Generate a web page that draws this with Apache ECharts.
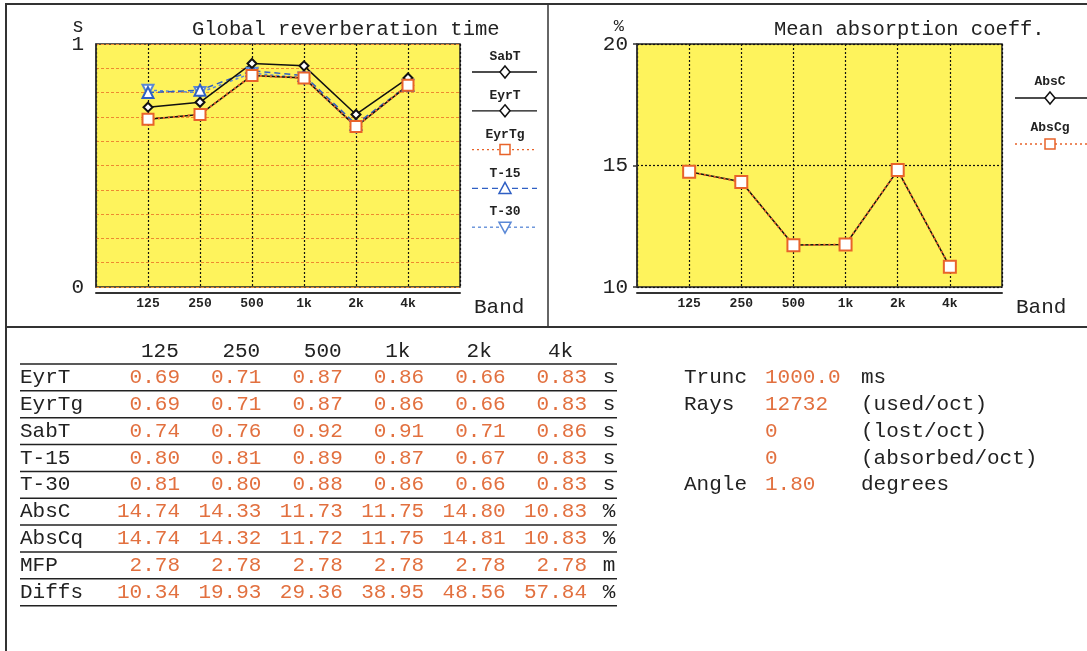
<!DOCTYPE html>
<html><head><meta charset="utf-8">
<script src="https://cdn.jsdelivr.net/npm/echarts@6/dist/echarts.min.js"></script>
<style>html,body{margin:0;padding:0;background:#fff}#c{width:1087px;height:651px}</style>
</head><body><div id="c"></div>
<script>
// ---------- data ----------
const bands = ['125', '250', '500', '1k', '2k', '4k'];
const sabT  = [0.74, 0.76, 0.92, 0.91, 0.71, 0.86];
const eyrT  = [0.69, 0.71, 0.87, 0.86, 0.66, 0.83];
const eyrTg = [0.69, 0.71, 0.87, 0.86, 0.66, 0.83];
const t15   = [0.80, 0.81, 0.89, 0.87, 0.67, 0.83];
const t30   = [0.81, 0.80, 0.88, 0.86, 0.66, 0.83];
const absC  = [14.74, 14.33, 11.73, 11.75, 14.80, 10.83];
const absCg = [14.74, 14.32, 11.72, 11.75, 14.81, 10.83];
const mfp   = [2.78, 2.78, 2.78, 2.78, 2.78, 2.78];
const diffs = [10.34, 19.93, 29.36, 38.95, 48.56, 57.84];
const rtTickLabels  = [0, 1];
const absTickLabels = [10, 15, 20];
const tableNames = ['EyrT', 'EyrTg', 'SabT', 'T-15', 'T-30', 'AbsC', 'AbsCq', 'MFP', 'Diffs'];
const tableUnits = ['s', 's', 's', 's', 's', '%', '%', 'm', '%'];
const infoLabels = ['Trunc', 'Rays', '', '', 'Angle'];
const infoValues = ['1000.0', '12732', '0', '0', '1.80'];
const infoUnits  = ['ms', '(used/oct)', '(lost/oct)', '(absorbed/oct)', 'degrees'];

// ---------- styles ----------
const FONT = '"Liberation Mono","DejaVu Sans Mono",monospace';
const YEL = '#FEF35C';
const ORG = '#E8632A';
const VALC = '#E2703F';
const INK = '#222';
const BLUE1 = '#2F5FC4';
const BLUE2 = '#5A88D6';

const rtCfg = [
  {name: 'SabT',  data: sabT,  color: '#111', dash: 'solid', w: 1.5, sym: 'emptyDiamond',  size: 9,  rot: 0},
  {name: 'EyrT',  data: eyrT,  color: '#111', dash: 'solid', w: 1.5, sym: 'emptyDiamond',  size: 10, rot: 0},
  {name: 'EyrTg', data: eyrTg, color: ORG,    dash: [2, 3],  w: 2,   sym: 'emptyRect',     size: 11, rot: 0},
  {name: 'T-15',  data: t15,   color: BLUE1,  dash: [6, 4],  w: 1.5, sym: 'emptyTriangle', size: 11, rot: 0},
  {name: 'T-30',  data: t30,   color: BLUE2,  dash: [3, 3],  w: 1.5, sym: 'emptyTriangle', size: 11, rot: 180}
];
const absCfg = [
  {name: 'AbsC',  data: absC,  color: '#111', dash: 'solid', w: 1.5, sym: 'emptyDiamond', size: 10, rot: 0},
  {name: 'AbsCg', data: absCg, color: ORG,    dash: [2, 3],  w: 2,   sym: 'emptyRect',    size: 12, rot: 0}
];
const rtDrawOrder = ['T-30', 'T-15', 'SabT', 'EyrT', 'EyrTg'];

function mkSeries(c, idx) {
  return {
    type: 'line', name: c.name, xAxisIndex: idx, yAxisIndex: idx,
    data: c.data.map((v, i) => [i + 1, v]),
    symbol: c.sym, symbolSize: c.size, symbolRotate: c.rot,
    itemStyle: {color: c.color, borderWidth: 1.5},
    lineStyle: {color: c.color, width: c.w, type: c.dash},
    emphasis: {disabled: true}, animation: false, z: 3
  };
}

function xAxisCfg(gi) {
  return {
    type: 'value', gridIndex: gi, min: 0, max: 7, interval: 1, offset: 6,
    axisLine: {show: true, onZero: false, lineStyle: {color: '#333', width: 2}},
    axisTick: {show: false},
    axisLabel: {formatter: v => bands[v - 1] || '', margin: 4, color: INK,
      fontFamily: FONT, fontSize: 13, fontWeight: 'bold'},
    splitLine: {show: true, lineStyle: {color: '#111', type: [2, 2], width: 1.2}},
    name: 'Band', nameLocation: 'end', nameGap: 14, nameMoveOverlap: false,
    nameTextStyle: {fontFamily: FONT, fontSize: 21, color: INK, verticalAlign: 'top', padding: [4, 0, 0, 0]}
  };
}

// ---------- legend graphics ----------
function marker(c, cx, cy) {
  const st = {fill: '#fff', stroke: c.color, lineWidth: 1.5};
  if (c.sym === 'emptyRect') return {type: 'rect', shape: {x: cx - 5, y: cy - 5, width: 10, height: 10}, style: st, z: 10};
  if (c.sym === 'emptyDiamond') return {type: 'polygon', shape: {points: [[cx, cy - 6], [cx + 5, cy], [cx, cy + 6], [cx - 5, cy]]}, style: st, z: 10};
  if (c.rot === 180) return {type: 'polygon', shape: {points: [[cx - 6, cy - 5], [cx + 6, cy - 5], [cx, cy + 6]]}, style: st, z: 10};
  return {type: 'polygon', shape: {points: [[cx, cy - 6], [cx + 6, cy + 5], [cx - 6, cy + 5]]}, style: st, z: 10};
}
function legendGraphics(cfgs, cx, x0, x1, y0, step, lab) {
  const out = [];
  cfgs.forEach((c, i) => {
    const y = y0 + step * i;
    out.push({type: 'text', x: cx, y: y - lab, style: {text: c.name, fill: INK, font: 'bold 13px ' + FONT, align: 'center', verticalAlign: 'middle'}, z: 10});
    out.push({type: 'line', shape: {x1: x0, y1: y, x2: x1, y2: y}, style: {stroke: c.color, lineWidth: 1.3, lineDash: c.dash === 'solid' ? null : c.dash}, z: 10});
    out.push(marker(c, cx, y));
  });
  return out;
}

// ---------- table graphics ----------
function txt(s, x, y, color, align) {
  return {type: 'text', x: x, y: y, style: {text: s, fill: color, font: '21px ' + FONT, align: align || 'left', verticalAlign: 'middle'}, z: 10};
}
const tableRows = [eyrT, eyrTg, sabT, t15, t30, absC, absCg, mfp, diffs];
const colRight = bands.map((b, i) => 179 + 81.4 * i);
const lineY = k => 364 + 26.85 * k;
const tableG = [];
bands.forEach((b, i) => tableG.push(txt(b, colRight[i] - 38, 351, INK, 'left')));
for (let k = 0; k <= tableRows.length; k++) {
  tableG.push({type: 'line', shape: {x1: 20, y1: lineY(k), x2: 617, y2: lineY(k)}, style: {stroke: '#222', lineWidth: 1.5}, z: 10});
}
tableRows.forEach((row, j) => {
  const y = lineY(j) + 13.5;
  tableG.push(txt(tableNames[j], 20, y, INK, 'left'));
  row.forEach((v, i) => tableG.push(txt(v.toFixed(2), colRight[i] + 1, y, VALC, 'right')));
  tableG.push(txt(tableUnits[j], 609, y, INK, 'center'));
});
infoLabels.forEach((l, j) => {
  const y = lineY(j) + 13.5;
  if (l) tableG.push(txt(l, 684, y, INK, 'left'));
  tableG.push(txt(infoValues[j], 765, y, VALC, 'left'));
  tableG.push(txt(infoUnits[j], 861, y, INK, 'left'));
});

// ---------- frame ----------
const frameG = [
  {type: 'line', shape: {x1: 5, y1: 4, x2: 1087, y2: 4}, style: {stroke: '#333', lineWidth: 2}, z: 10},
  {type: 'line', shape: {x1: 6, y1: 4, x2: 6, y2: 651}, style: {stroke: '#333', lineWidth: 2}, z: 10},
  {type: 'line', shape: {x1: 548, y1: 4, x2: 548, y2: 327}, style: {stroke: '#333', lineWidth: 1.5}, z: 10},
  {type: 'line', shape: {x1: 5, y1: 327, x2: 1087, y2: 327}, style: {stroke: '#333', lineWidth: 2}, z: 10}
];

const chart = echarts.init(document.getElementById('c'), null, {renderer: 'canvas'});
chart.setOption({
  backgroundColor: '#fff',
  animation: false,
  title: [
    {text: 'Global reverberation time', left: 187, top: 14, textStyle: {fontFamily: FONT, fontSize: 20.5, fontWeight: 'normal', color: INK}},
    {text: 'Mean absorption coeff.', left: 769, top: 14, textStyle: {fontFamily: FONT, fontSize: 20.5, fontWeight: 'normal', color: INK}}
  ],
  grid: [
    {left: 96, top: 44, width: 364, height: 243, show: true, backgroundColor: YEL, borderColor: '#222', borderWidth: 1.5},
    {left: 637, top: 44, width: 365, height: 243, show: true, backgroundColor: YEL, borderColor: '#222', borderWidth: 1.5}
  ],
  xAxis: [xAxisCfg(0), xAxisCfg(1)],
  yAxis: [
    {type: 'value', gridIndex: 0, min: 0, max: 1, interval: 0.1, offset: 6,
     axisLine: {show: true, lineStyle: {color: '#333', width: 1.5}},
     axisTick: {show: false},
     axisLabel: {customValues: rtTickLabels, margin: 6, color: INK, fontFamily: FONT, fontSize: 21},
     splitLine: {show: true, lineStyle: {color: '#EE8A30', type: [3, 2], width: 1.2}},
     name: 's', nameLocation: 'end', nameGap: 17, nameMoveOverlap: false,
     nameTextStyle: {fontFamily: FONT, fontSize: 20, color: INK, align: 'right', verticalAlign: 'middle', padding: [0, 12, 0, 0]}},
    {type: 'value', gridIndex: 1, min: 10, max: 20, interval: 5, offset: 5,
     axisLine: {show: true, lineStyle: {color: '#333', width: 1.5}},
     axisTick: {show: true, length: 4, lineStyle: {color: '#333', width: 1.5}},
     axisLabel: {customValues: absTickLabels, margin: 4, color: INK, fontFamily: FONT, fontSize: 21},
     splitLine: {show: true, lineStyle: {color: '#111', type: [2, 2], width: 1.2}},
     name: '%', nameLocation: 'end', nameGap: 18, nameMoveOverlap: false,
     nameTextStyle: {fontFamily: FONT, fontSize: 17, color: INK, align: 'right', verticalAlign: 'middle', padding: [0, 13, 0, 0]}}
  ],
  series: rtDrawOrder.map(n => mkSeries(rtCfg.find(c => c.name === n), 0))
    .concat(absCfg.map(c => mkSeries(c, 1))),
  graphic: [].concat(
    frameG,
    legendGraphics(rtCfg, 505, 472, 537, 72, 38.8, 15),
    legendGraphics(absCfg, 1050, 1015, 1087, 98, 46, 16),
    tableG
  )
});
</script></body></html>
